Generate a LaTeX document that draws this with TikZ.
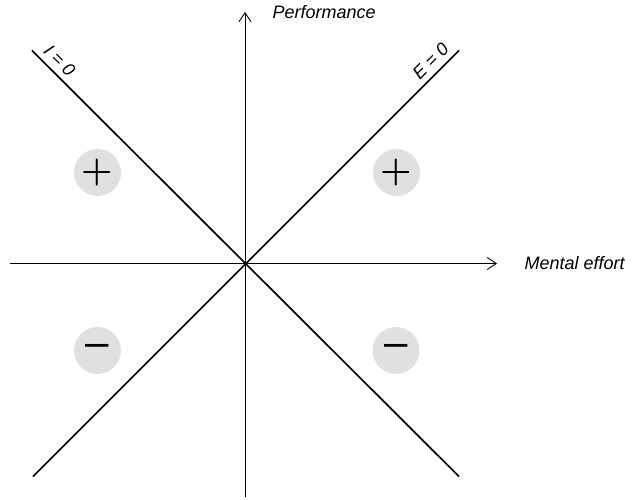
\documentclass[tikz,border=0pt]{standalone}
\usepackage{fontspec}
\setmainfont{Liberation Sans}
\newfontfamily\signfont{Latin Modern Roman}
\usetikzlibrary{arrows.meta,positioning}

\begin{document}
\begin{tikzpicture}[
    x=1pt, y=1pt,
    axis/.style={line width=0.9pt, -{Straight Barb[length=9pt,width=12pt,line width=0.9pt]}},
    diag/.style={line width=1.7pt},
    lbl/.style={font=\fontsize{18}{21}\selectfont\itshape},
    sign/.style={circle, fill=black!12, minimum size=47pt, inner sep=0pt},
    plus/.style={sign, font=\signfont\bfseries\fontsize{36}{36}\selectfont},
    minus/.style={sign, font=\fontsize{42}{42}\selectfont}
  ]
    \useasboundingbox (-245,-236.5) rectangle (389,263.5);
    \coordinate (xl) at (-235,0);
    \coordinate (xr) at (252,0);
    \coordinate (yb) at (0,-233.5);
    \coordinate (yt) at (0,251.5);
    \coordinate (nw) at (-213,213);
    \coordinate (se) at (214,-213);
    \coordinate (sw) at (-212,-213);
    \coordinate (ne) at (214,213);

    % quadrant signs
    \node[plus]  (pnw) at (-147.5,91) {+};
    \node[plus]  (pne) at (151.5,91)  {+};
    \node[minus] (msw) at (-147.5,-87) {–};
    \node[minus] (mse) at (151,-87)   {–};

    % axes
    \draw[axis] (xl) -- (xr);
    \draw[axis] (yb) -- (yt);
    \node[lbl, right=24pt of xr] (effort) {Mental effort};
    \node[lbl, right=24pt of yt] (perf)   {Performance};

    % zero lines
    \draw[diag] (nw) -- (se) node[pos=0.044, sloped, above=2pt, lbl] (izero) {I = 0};
    \draw[diag] (sw) -- (ne) node[pos=0.954, sloped, above=2pt, lbl] (ezero) {E = 0};
\end{tikzpicture}
\end{document}
